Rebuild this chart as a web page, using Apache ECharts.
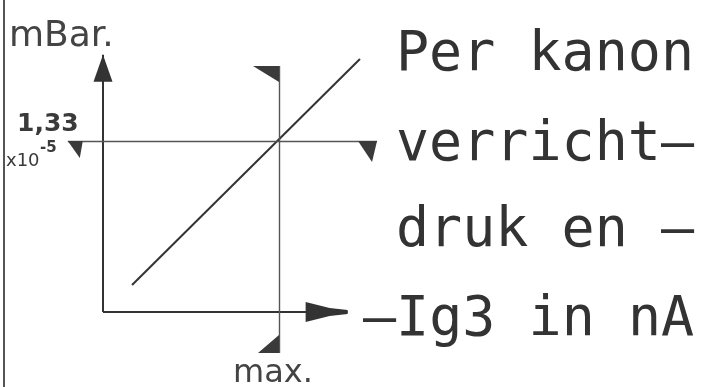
<!DOCTYPE html>
<html>
<head>
<meta charset="utf-8">
<script src="https://cdn.jsdelivr.net/npm/echarts@6/dist/echarts.min.js"></script>
<style>
html,body{margin:0;padding:0;background:#fff;}
#chart{width:703px;height:387px;}
</style>
</head>
<body>
<div id="chart"></div>
<script>
// ---- data (x in units of I_max, y in 10^-5 mBar) ----
const diagonalLine = [[0.165, 0.21], [1.46, 1.967]];
const yAxisTop = 2.0;
const xAxisRight = 1.39;
const refPressure = 1.33;
const refCurrentMax = 1.0;
const hRefExtent = [-0.2, 1.557];
const vRefExtent = [-0.319, 1.913];
const yUnitLabel = 'mBar.';
const refPressureLabel = '1,33';
const refPressureExp = ['x10', '-5'];
const maxLabel = 'max.';
const noteLines = ['Per kanon', 'verricht\u2013', 'druk en \u2013', '\u2013Ig3 in nA'];

const ink = '#333';
const chart = echarts.init(document.getElementById('chart'), null, {renderer: 'canvas'});

const yArrow = 'path://M10,0 L20,28 L0,28 Z';
const xArrow = 'path://M8,0 L12,0 L14,18 L20,42 L0,42 L6,18 Z';

const option = {
  animation: false,
  backgroundColor: '#fff',
  grid: {left: 32.6, right: 283.2, top: 29.08, bottom: 23.56},
  xAxis: {type: 'value', min: -0.4, max: 1.8, show: false},
  yAxis: {type: 'value', min: -0.4, max: 2.2, show: false},
  series: [
    {
      name: 'druk',
      type: 'line',
      data: diagonalLine,
      symbol: 'none',
      silent: true,
      lineStyle: {color: ink, width: 2},
      z: 3
    },
    {
      name: 'assen',
      type: 'line',
      data: [],
      silent: true,
      markLine: {
        silent: true,
        symbol: ['none', 'none'],
        label: {show: false},
        lineStyle: {color: ink, width: 2, type: 'solid'},
        data: [
          [{coord: [0, 0]},
           {coord: [0, yAxisTop], symbol: yArrow, symbolSize: [19, 27], symbolOffset: [0, 13.5]}],
          [{coord: [0, 0]},
           {coord: [xAxisRight, 0], symbol: xArrow, symbolSize: [20, 42], symbolOffset: [0, 21]}]
        ]
      }
    },
    {
      name: 'referentie',
      type: 'line',
      data: [],
      silent: true,
      markLine: {
        silent: true,
        symbol: ['none', 'none'],
        label: {show: false},
        lineStyle: {color: '#555', width: 1.4, type: 'solid'},
        data: [
          [{coord: [hRefExtent[0], refPressure]}, {coord: [hRefExtent[1], refPressure]}],
          [{coord: [refCurrentMax, vRefExtent[1]]}, {coord: [refCurrentMax, vRefExtent[0]]}]
        ]
      },
      markPoint: {
        silent: true,
        label: {show: false},
        itemStyle: {color: '#3a3a3a'},
        data: [
          {coord: [hRefExtent[0], refPressure], symbol: 'path://M0,0 L15,0 L12,17 Z', symbolSize: [15, 17], symbolOffset: [7.5, 8.5]},
          {coord: [hRefExtent[1], refPressure], symbol: 'path://M0,0 L19,0 L14,21 Z', symbolSize: [19, 21], symbolOffset: [-9.5, 10.5]},
          {coord: [refCurrentMax, vRefExtent[1]], symbol: 'path://M0,0 L26,0 L26,16 Z', symbolSize: [26, 16], symbolOffset: [-13, 8]},
          {coord: [refCurrentMax, vRefExtent[0]], symbol: 'path://M0,18 L21,18 L21,0 Z', symbolSize: [21, 18], symbolOffset: [-10.5, -9]}
        ]
      }
    }
  ],
  graphic: [
    {type: 'line', shape: {x1: 4, y1: 0, x2: 4, y2: 387}, style: {stroke: '#555', lineWidth: 2}, silent: true},
    {type: 'text', x: 9, y: 36.6, style: {text: yUnitLabel, font: '36px "DejaVu Sans"', fill: '#444', verticalAlign: 'middle', align: 'left'}},
    {type: 'text', x: 17, y: 124.3, style: {text: refPressureLabel, font: 'bold 25px "DejaVu Sans"', fill: '#3a3a3a', verticalAlign: 'middle', align: 'left'}},
    {type: 'text', x: 6, y: 161.4, style: {text: refPressureExp[0], font: '18px "DejaVu Sans"', fill: '#3a3a3a', verticalAlign: 'middle', align: 'left'}},
    {type: 'text', x: 40, y: 148.5, style: {text: refPressureExp[1], font: 'bold 15px "DejaVu Sans"', fill: '#3a3a3a', verticalAlign: 'middle', align: 'left'}},
    {type: 'text', x: 273, y: 373.5, style: {text: maxLabel, font: '32px "DejaVu Sans"', fill: '#444', verticalAlign: 'middle', align: 'center'}},
    {type: 'text', x: 396, y: 55.7, style: {text: noteLines[0], font: '55px "DejaVu Sans Mono"', fill: '#333', verticalAlign: 'middle', align: 'left'}},
    {type: 'text', x: 396, y: 145.7, style: {text: noteLines[1], font: '55px "DejaVu Sans Mono"', fill: '#333', verticalAlign: 'middle', align: 'left'}},
    {type: 'text', x: 396, y: 231.7, style: {text: noteLines[2], font: '55px "DejaVu Sans Mono"', fill: '#333', verticalAlign: 'middle', align: 'left'}},
    {type: 'text', x: 363, y: 320.7, style: {text: noteLines[3], font: '55px "DejaVu Sans Mono"', fill: '#333', verticalAlign: 'middle', align: 'left'}}
  ]
};
chart.setOption(option);
</script>
</body>
</html>
